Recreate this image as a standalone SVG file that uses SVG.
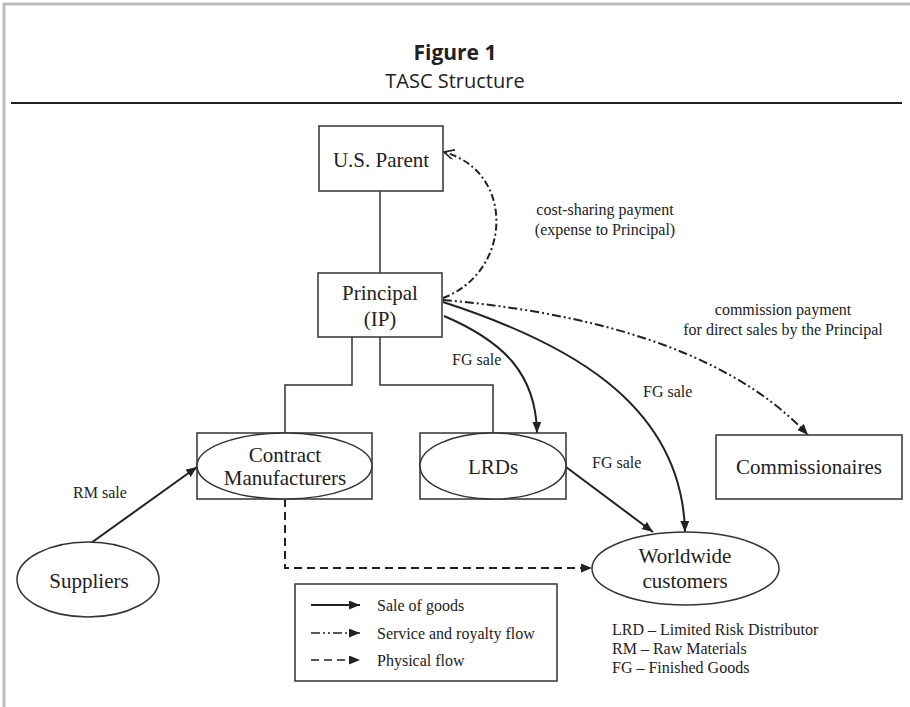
<svg xmlns="http://www.w3.org/2000/svg" width="910" height="707" viewBox="0 0 910 707">
<style>
.box{fill:#fff;stroke:#333;stroke-width:1.5}
.ell{fill:#fff;stroke:#333;stroke-width:1.5}
.tree{fill:none;stroke:#333;stroke-width:1.5}
.sale{fill:none;stroke:#222;stroke-width:2}
.phys{fill:none;stroke:#222;stroke-width:2;stroke-dasharray:8 5}
.dd{fill:none;stroke:#222;stroke-width:2;stroke-dasharray:7 3 2 3}
.ddd{fill:none;stroke:#222;stroke-width:2;stroke-dasharray:9 3 2 3 2 3}
.node{font-family:"Liberation Serif","Times New Roman",serif;font-size:21px;fill:#222;text-anchor:middle}
.lbl{font-family:"Liberation Serif","Times New Roman",serif;font-size:16px;fill:#222}
.mid{text-anchor:middle}
.title{font-family:"Open Sans","Noto Sans",sans-serif;fill:#222;text-anchor:middle}
</style>
<defs>
<marker id="ah" markerUnits="userSpaceOnUse" markerWidth="12" markerHeight="10" refX="11" refY="4.5" orient="auto">
<path d="M0,0 L11,4.5 L0,9 z" fill="#222"/>
</marker>
<marker id="ao" markerUnits="userSpaceOnUse" markerWidth="14" markerHeight="12" refX="11" refY="5" orient="auto">
<path d="M1,0 L11,5 L1,10" fill="none" stroke="#222" stroke-width="1.6"/>
</marker>
</defs>
<rect width="910" height="707" fill="#fff"/>
<path d="M4,707 V4 H910" fill="none" stroke="#bdbdbd" stroke-width="3"/>
<text class="title" x="455" y="60" font-size="21" font-weight="bold">Figure 1</text>
<text class="title" x="455" y="88" font-size="20">TASC Structure</text>
<line x1="11" y1="103" x2="902" y2="103" stroke="#222" stroke-width="2"/>

<g id="connectors">
<path class="tree" d="M380,191 V273"/>
<path class="tree" d="M352,337 V385 H285 V433"/>
<path class="tree" d="M380,337 V385 H493 V433"/>
<path class="sale" d="M91,543 L197,467" marker-end="url(#ah)"/>
<path class="phys" d="M285,499 V568 H592" marker-end="url(#ah)"/>
<path class="dd" d="M443,298 C512,272 516,172 444,152" marker-end="url(#ao)"/>
<path class="ddd" d="M443,300 C560,310 720,340 808,435" marker-end="url(#ah)"/>
<path class="sale" d="M444,316 C505,342 536,375 537,433" marker-end="url(#ah)"/>
<path class="sale" d="M443,302 C560,340 682,400 685,532" marker-end="url(#ah)"/>
<path class="sale" d="M566,467 L653,532" marker-end="url(#ah)"/>
<text class="lbl" x="73" y="498">RM sale</text>
<text class="lbl mid" x="605" y="215">cost-sharing payment</text>
<text class="lbl mid" x="605" y="235">(expense to Principal)</text>
<text class="lbl mid" x="783" y="315">commission payment</text>
<text class="lbl mid" x="783" y="335">for direct sales by the Principal</text>
<text class="lbl" x="452" y="365">FG sale</text>
<text class="lbl" x="643" y="397">FG sale</text>
<text class="lbl" x="592" y="468">FG sale</text>
</g>

<g id="us-parent">
<rect class="box" x="319" y="126" width="124" height="65"/>
<text class="node" x="381" y="167">U.S. Parent</text>
</g>
<g id="principal">
<rect class="box" x="318" y="273" width="124" height="64"/>
<text class="node" x="380" y="300">Principal</text>
<text class="node" x="380" y="326">(IP)</text>
</g>
<g id="contract-manufacturers">
<rect class="box" x="197" y="433" width="175" height="66"/>
<ellipse class="ell" cx="284.5" cy="466" rx="87.5" ry="33"/>
<text class="node" x="285" y="462">Contract</text>
<text class="node" x="285" y="485">Manufacturers</text>
</g>
<g id="lrds">
<rect class="box" x="420" y="433" width="146" height="66"/>
<ellipse class="ell" cx="493" cy="466" rx="73" ry="33"/>
<text class="node" x="493" y="474">LRDs</text>
</g>
<g id="commissionaires">
<rect class="box" x="716" y="435" width="186" height="64"/>
<text class="node" x="809" y="474">Commissionaires</text>
</g>
<g id="worldwide-customers">
<ellipse class="ell" cx="685.5" cy="568.5" rx="93.5" ry="36.5"/>
<text class="node" x="685" y="563">Worldwide</text>
<text class="node" x="685" y="588">customers</text>
</g>
<g id="suppliers">
<ellipse class="ell" cx="88" cy="579.5" rx="71" ry="37.5"/>
<text class="node" x="89" y="588">Suppliers</text>
</g>
<g id="legend">
<rect class="box" x="295" y="584" width="262" height="97"/>
<path class="sale" d="M311,605 H360" marker-end="url(#ah)"/>
<path class="ddd" d="M311,633 H360" marker-end="url(#ah)" style="stroke-width:1.6"/>
<path class="phys" d="M311,660 H360" marker-end="url(#ah)" style="stroke-width:1.6"/>
<text class="lbl" x="377" y="611">Sale of goods</text>
<text class="lbl" x="377" y="639">Service and royalty flow</text>
<text class="lbl" x="377" y="666">Physical flow</text>
</g>
<g id="abbreviations">
<text class="lbl" x="612" y="635">LRD – Limited Risk Distributor</text>
<text class="lbl" x="612" y="654">RM – Raw Materials</text>
<text class="lbl" x="612" y="673">FG – Finished Goods</text>
</g>
</svg>
